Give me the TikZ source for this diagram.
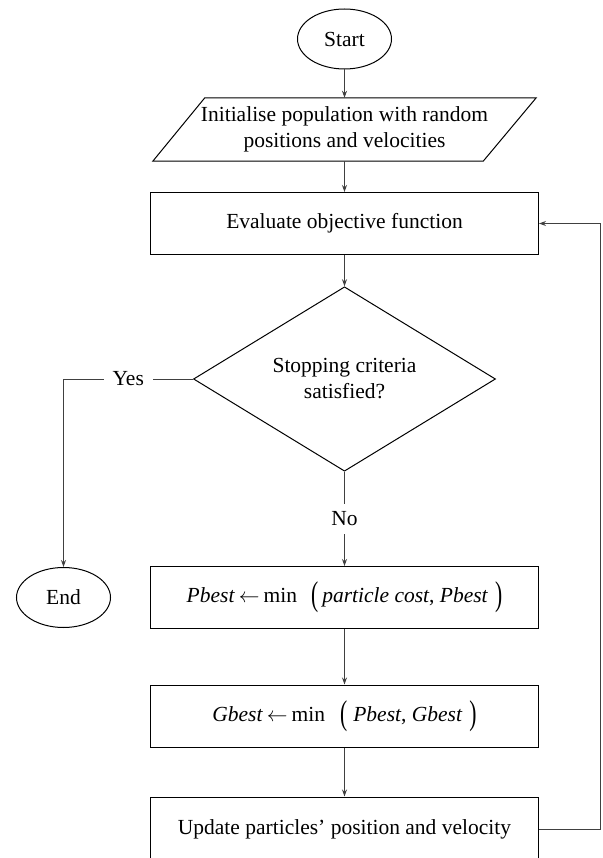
\documentclass[tikz,border=0pt]{standalone}
\usepackage{fontspec}
\usepackage{graphicx}
\setmainfont{Liberation Serif}
\usetikzlibrary{shapes.geometric,arrows.meta}
\newcommand\tallopen{\raisebox{-3pt}{\scalebox{1}[1.6]{(}}}
\newcommand\tallclose{\raisebox{-3pt}{\scalebox{1}[1.6]{)}}}
\begin{document}
\begin{tikzpicture}[x=1pt,y=-1pt,
  every node/.style={font=\fontsize{21.5}{26}\selectfont, inner sep=0pt},
  term/.style={draw, ellipse, minimum width=94pt, minimum height=60pt, line width=1pt},
  procbox/.style={draw, rectangle, minimum width=388pt, minimum height=62pt, line width=1pt},
  decide/.style={draw, diamond, minimum width=302pt, minimum height=166pt, line width=1pt, align=center},
  conn/.style={draw=black!75, line width=1pt, -{Stealth[length=7pt,width=5pt]}},
  lab/.style={fill=white, inner xsep=9pt, inner ysep=8pt}
]
\useasboundingbox (0,0) rectangle (602,858);
\node[term] (start) at (344.5,39) {Start};
\node[minimum width=383pt, minimum height=63pt, align=center] (init) at (344.5,129.5) {Initialise population with random\\positions and velocities};
\draw[line width=1pt] (init.south west) -- ([xshift=-53pt]init.south east) -- (init.north east) -- ([xshift=52pt]init.north west) -- cycle;
\node[procbox] (eval) at (344.5,223.5) {Evaluate objective function};
\node[decide] (stop) at (344.5,379) {Stopping criteria\\satisfied?};
\node[term] (end) at (63.5,597.5) {End};
\node[procbox] (pbest) at (344.5,597.5) {\textit{Pbest}\hspace{4pt}$\leftarrow$\hspace{4pt}min\hspace{14pt}\tallopen\hspace{4pt}\textit{particle cost}, \textit{Pbest}\hspace{7pt}\tallclose};
\node[procbox] (gbest) at (344.5,716) {\textit{Gbest}\hspace{4pt}$\leftarrow$\hspace{4pt}min\hspace{15pt}\tallopen\hspace{6pt}\textit{Pbest}, \textit{Gbest}\hspace{7pt}\tallclose};
\node[procbox, minimum height=64pt] (upd) at (344.5,829) {Update particles' position and velocity};
\coordinate (yescorner) at (63.5,379);
\coordinate (fbbottom) at (600,829);
\coordinate (fbtop) at (600,223.5);
\draw[conn] (start) -- (init);
\draw[conn] (init) -- (eval);
\draw[conn] (eval) -- (stop);
\draw[conn] (stop) -- node[lab]{No} (pbest);
\draw[conn] (pbest) -- (gbest);
\draw[conn] (gbest) -- (upd);
\draw[conn] (stop.west) -- node[lab]{Yes} (yescorner) -- (end);
\draw[conn] (upd.east) -- (fbbottom) -- (fbtop) -- (eval.east);
\end{tikzpicture}
\end{document}
